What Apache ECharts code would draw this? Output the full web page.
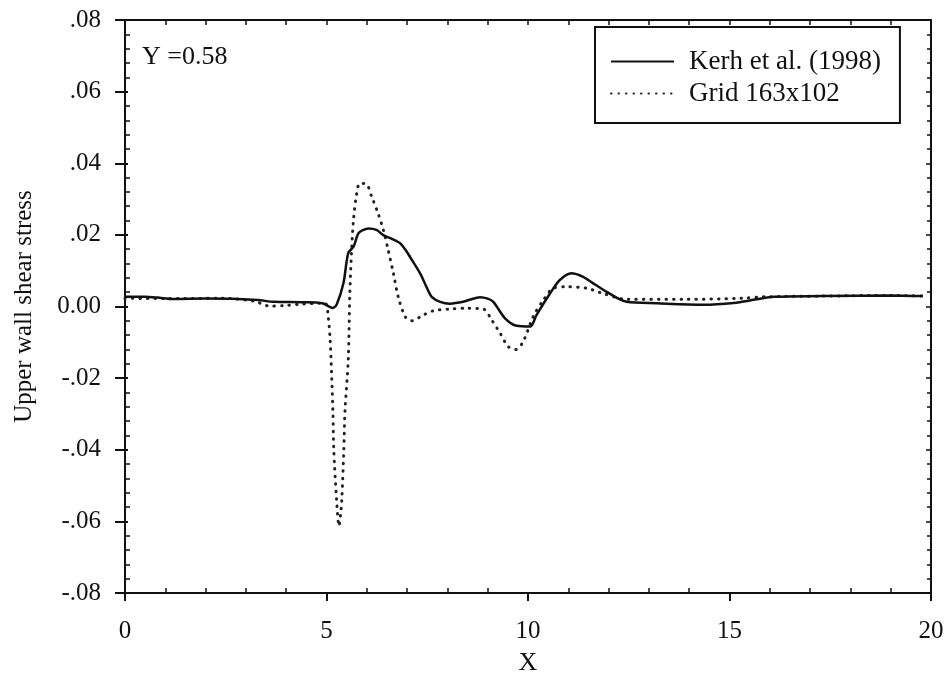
<!DOCTYPE html>
<html>
<head>
<meta charset="utf-8">
<script src="https://cdn.jsdelivr.net/npm/echarts@6/dist/echarts.min.js"></script>
<style>
html,body{margin:0;padding:0;background:#fff;}
#chart{width:952px;height:698px;}
</style>
</head>
<body>
<div id="chart"></div>
<script>
// ---- data ----
var seriesNames = ['Kerh et al. (1998)', 'Grid 163x102'];
var kerhX = [0, 0.5, 0.8, 1.2, 2.0, 2.8, 3.3, 3.7, 4.4, 4.9, 5.15, 5.25, 5.42, 5.54, 5.67, 5.79, 5.9, 6.04, 6.24, 6.4, 6.6, 6.82, 6.95, 7.07, 7.32, 7.5, 7.61, 7.82, 8.06, 8.39, 8.81, 9.0, 9.14, 9.43, 9.72, 10.05, 10.21, 10.55, 10.79, 11.08, 11.37, 11.6, 11.95, 12.45, 13.2, 14.35, 15.1, 15.67, 16.1, 17.3, 19.0, 19.8];
var kerhY = [0.0027, 0.0027, 0.0025, 0.0021, 0.0022, 0.0021, 0.0018, 0.0013, 0.0012, 0.0009, -0.0004, 0.0005, 0.0065, 0.0149, 0.0167, 0.0204, 0.0213, 0.0218, 0.0214, 0.0200, 0.0190, 0.0177, 0.0160, 0.0139, 0.0093, 0.0050, 0.0027, 0.0013, 0.0008, 0.0013, 0.0026, 0.0022, 0.0013, -0.0033, -0.0054, -0.0056, -0.0024, 0.0037, 0.0074, 0.0093, 0.0083, 0.0066, 0.0041, 0.0013, 0.0009, 0.0005, 0.0010, 0.0020, 0.0027, 0.0029, 0.0031, 0.0029];
var gridX = [0, 1, 2.4, 3.2, 3.6, 4.0, 4.4, 4.96, 5.04, 5.09, 5.13, 5.16, 5.18, 5.25, 5.31, 5.35, 5.38, 5.43, 5.46, 5.54, 5.58, 5.62, 5.67, 5.75, 5.83, 5.99, 6.12, 6.28, 6.41, 6.53, 6.66, 6.78, 6.95, 7.11, 7.40, 7.65, 8.06, 8.47, 8.89, 9.10, 9.31, 9.51, 9.70, 9.88, 10.13, 10.38, 10.63, 10.96, 11.46, 11.79, 12.45, 13.9, 15.3, 15.84, 17.3, 19.0, 19.8];
var gridY = [0.0023, 0.0022, 0.0023, 0.0015, 0.0001, 0.0003, 0.0007, 0.0009, -0.0028, -0.0094, -0.0200, -0.0300, -0.0400, -0.0540, -0.0613, -0.0580, -0.0540, -0.0400, -0.0290, -0.0150, 0.0037, 0.0149, 0.0242, 0.0316, 0.0344, 0.0342, 0.0307, 0.0260, 0.0214, 0.0158, 0.0093, 0.0027, -0.0028, -0.0040, -0.0024, -0.0012, -0.0007, -0.0005, -0.0007, -0.0038, -0.0075, -0.0112, -0.0120, -0.0098, -0.0028, 0.0018, 0.0051, 0.0055, 0.0051, 0.0039, 0.0020, 0.0020, 0.0023, 0.0027, 0.0029, 0.0031, 0.0029];
var xTickValues = [0, 5, 10, 15, 20];
var yTickValues = [-0.08, -0.06, -0.04, -0.02, 0, 0.02, 0.04, 0.06, 0.08];
var yTickLabels = ['-.08', '-.06', '-.04', '-.02', '0.00', '.02', '.04', '.06', '.08'];
var annotation = 'Y =0.58';
var xName = 'X';
var yName = 'Upper wall shear stress';

function pairs(xs, ys) { return xs.map(function (x, i) { return [x, ys[i]]; }); }
function yLabel(v) {
  for (var i = 0; i < yTickValues.length; i++) {
    if (Math.abs(v - yTickValues[i]) < 1e-9) return yTickLabels[i];
  }
  return '';
}

var FONT = "'Liberation Serif', 'DejaVu Serif', serif";
var BLACK = '#111';

var chart = echarts.init(document.getElementById('chart'), null, {renderer: 'canvas'});
var hidden = {show: false};
var option = {
  backgroundColor: '#ffffff',
  animation: false,
  textStyle: {fontFamily: FONT, color: BLACK},
  title: {
    text: annotation, left: 137, top: 39,
    textStyle: {fontFamily: FONT, fontSize: 26, fontWeight: 'normal', color: BLACK}
  },
  legend: {
    left: 595, top: 27, orient: 'vertical',
    data: seriesNames,
    itemWidth: 63, itemHeight: 14, itemGap: 5,
    padding: [21, 19, 16, 15],
    borderColor: BLACK, borderWidth: 2,
    itemStyle: {opacity: 0, borderWidth: 0},
    textStyle: {fontFamily: FONT, fontSize: 27, color: BLACK, padding: [0, 0, 0, 10]}
  },
  grid: {left: 125, right: 21, top: 20, bottom: 105, containLabel: false},
  xAxis: [
    {
      type: 'value', position: 'bottom', min: 0, max: 20, interval: 5,
      axisLine: {show: true, onZero: false, lineStyle: {color: BLACK, width: 2}},
      axisTick: {show: true, inside: false, length: 8, lineStyle: {color: BLACK, width: 2}},
      axisLabel: {margin: 26, fontSize: 25, fontFamily: FONT, color: BLACK},
      splitLine: hidden,
      name: xName, nameLocation: 'middle', nameGap: 57,
      nameTextStyle: {fontFamily: FONT, fontSize: 26, color: BLACK}
    },
    {
      type: 'value', position: 'bottom', min: 0, max: 20, interval: 5,
      axisLine: {show: false, onZero: false},
      axisTick: {show: false, inside: true},
      axisLabel: hidden, splitLine: hidden,
      minorTick: {show: true, splitNumber: 5, length: 5, lineStyle: {color: BLACK, width: 1.5}}
    },
    {
      type: 'value', position: 'top', min: 0, max: 20, interval: 5,
      axisLine: {show: true, onZero: false, lineStyle: {color: BLACK, width: 2}},
      axisTick: {show: true, inside: true, length: 5, lineStyle: {color: BLACK, width: 1.5}},
      axisLabel: hidden, splitLine: hidden,
      minorTick: {show: true, splitNumber: 5, length: 5, lineStyle: {color: BLACK, width: 1.5}}
    }
  ],
  yAxis: [
    {
      type: 'value', position: 'left', min: -0.08, max: 0.08, interval: 0.02,
      axisLine: {show: true, onZero: false, lineStyle: {color: BLACK, width: 2}},
      axisTick: {show: true, inside: false, length: 10, lineStyle: {color: BLACK, width: 2}},
      axisLabel: {margin: 24, fontSize: 25, fontFamily: FONT, color: BLACK, formatter: yLabel},
      splitLine: hidden,
      name: yName, nameLocation: 'middle', nameGap: 88, nameRotate: 90,
      nameTextStyle: {fontFamily: FONT, fontSize: 25, color: BLACK}
    },
    {
      type: 'value', position: 'left', min: -0.08, max: 0.08, interval: 0.02,
      axisLine: {show: false, onZero: false},
      axisTick: {show: true, inside: true, length: 3, lineStyle: {color: BLACK, width: 2}},
      axisLabel: hidden, splitLine: hidden,
      minorTick: {show: true, splitNumber: 5, length: 5, lineStyle: {color: BLACK, width: 1.5}}
    },
    {
      type: 'value', position: 'right', min: -0.08, max: 0.08, interval: 0.02,
      axisLine: {show: true, onZero: false, lineStyle: {color: BLACK, width: 2}},
      axisTick: {show: true, inside: true, length: 5, lineStyle: {color: BLACK, width: 1.5}},
      axisLabel: hidden, splitLine: hidden,
      minorTick: {show: true, splitNumber: 5, length: 4, lineStyle: {color: BLACK, width: 1.5}}
    }
  ],
  series: [
    {
      name: seriesNames[0], type: 'line', xAxisIndex: 0, yAxisIndex: 0,
      data: pairs(kerhX, kerhY), smooth: 0.3, symbol: 'none', showSymbol: false,
      lineStyle: {color: BLACK, width: 2.5}, itemStyle: {color: BLACK}, z: 3
    },
    {
      name: seriesNames[1], type: 'line', xAxisIndex: 0, yAxisIndex: 0,
      data: pairs(gridX, gridY), smooth: 0.3, symbol: 'none', showSymbol: false,
      lineStyle: {color: '#222', width: 3, type: [0.5, 7], cap: 'round'},
      itemStyle: {color: '#222'}, z: 2
    }
  ]
};
chart.setOption(option);
</script>
</body>
</html>
